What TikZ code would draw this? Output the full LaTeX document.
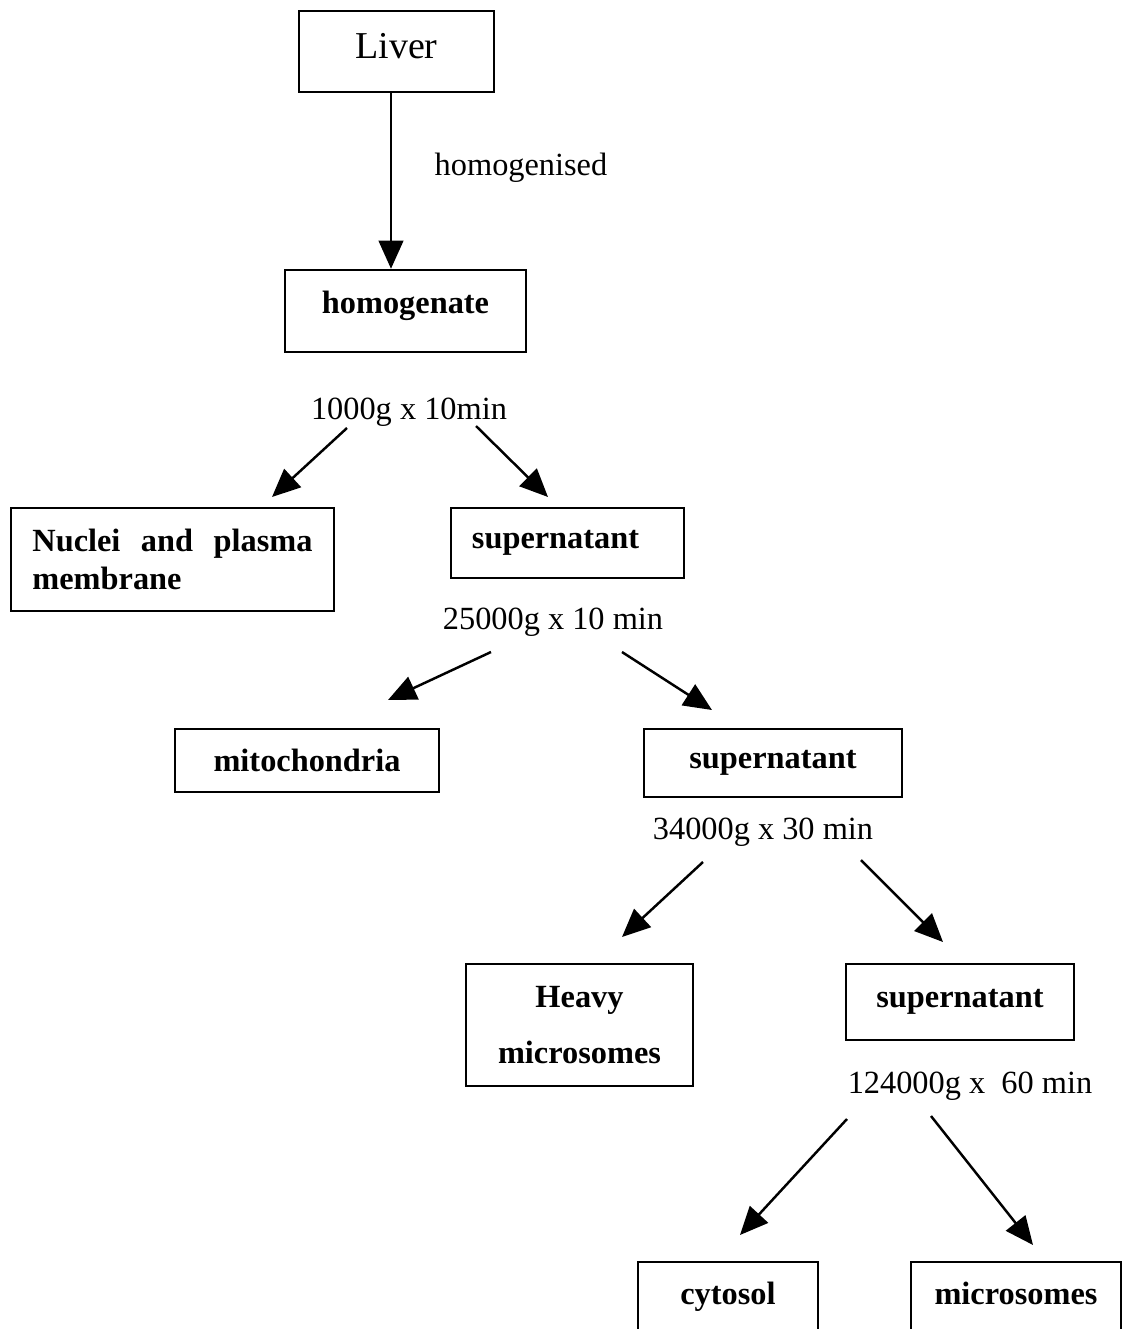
\documentclass[tikz,border=0pt]{standalone}
\usepackage{fontspec}
\setmainfont{Liberation Serif}
\usetikzlibrary{arrows.meta}
\begin{document}
\begin{tikzpicture}[x=0.01cm, y=-0.01cm]
        \tikzstyle{box}=[draw, line width=0.7pt, inner sep=0pt,
            font=\fontsize{9.2}{11}\selectfont\bfseries, align=center]
        \tikzstyle{spin}=[inner sep=0pt, font=\fontsize{9.2}{11}\selectfont]
        \tikzstyle{arr}=[line width=0.7pt, -{Triangle[length=8pt, width=7pt]}]

        \clip (0, 0) rectangle (1122, 1329);

        \node[box, minimum width=19.5mm, minimum height=8.1mm, text depth=3pt,
            font=\fontsize{10.8}{13}\selectfont] (liver) at (396.5, 51.5) {Liver};
        \node[box, minimum width=24.1mm, minimum height=8.2mm, text depth=5pt] (homogenate) at (405.5, 311) {homogenate};
        \node[spin] (hom) at (521, 168) {homogenised};

        \node[spin] (spin1) at (409, 412) {1000g x 10min};
        \node[box, minimum width=32.3mm, minimum height=10.3mm, text width=28mm,
            align=left] (nuclei) at (172.5, 559.5)
            {Nuclei\hfill and\hfill plasma\\membrane};
        \node[box, minimum width=23.3mm, minimum height=7mm, text width=19.1mm,
            align=left] (sup1) at (567.5, 543) {supernatant};

        \node[spin] (spin2) at (553, 622) {25000g x 10 min};
        \node[box, minimum width=26.4mm, minimum height=6.3mm] (mito) at (307, 760.5) {mitochondria};
        \node[box, minimum width=25.8mm, minimum height=6.8mm] (sup2) at (773, 763) {supernatant};

        \node[spin] (spin3) at (763, 832) {34000g x 30 min};
        \node[box, minimum width=22.7mm, minimum height=12.2mm,
            font=\fontsize{9.2}{15.9}\selectfont\bfseries] (heavy) at (579.5, 1025) {Heavy\\microsomes};
        \node[box, minimum width=22.8mm, minimum height=7.6mm] (sup3) at (960, 1002) {supernatant};

        \node[spin] (spin4) at (970, 1086) {124000g x\ \ 60 min};
        \node[box, minimum width=18mm, minimum height=7mm] (cytosol) at (728, 1297) {cytosol};
        \node[box, minimum width=21mm, minimum height=7mm, text depth=2pt] (micro) at (1016, 1297) {microsomes};

        \coordinate (a1) at (347, 428);
        \coordinate (b1) at (272, 497);
        \coordinate (a2) at (476, 426);
        \coordinate (b2) at (548, 497);
        \coordinate (a3) at (491, 652);
        \coordinate (b3) at (388, 700);
        \coordinate (a4) at (622, 652);
        \coordinate (b4) at (712, 710);
        \coordinate (a5) at (703, 862);
        \coordinate (b5) at (622, 937);
        \coordinate (a6) at (861, 860);
        \coordinate (b6) at (943, 942);
        \coordinate (a7) at (847, 1119);
        \coordinate (b7) at (740, 1235);
        \coordinate (a8) at (931, 1116);
        \coordinate (b8) at (1033, 1245);

        \draw[arr] ([xshift=-0.55mm]liver.south) -- ([xshift=-0.55mm]liver.south |- homogenate.north);
        \draw[arr] (a1) to (b1);
        \draw[arr] (a2) to (b2);
        \draw[arr] (a3) to (b3);
        \draw[arr] (a4) to (b4);
        \draw[arr] (a5) to (b5);
        \draw[arr] (a6) to (b6);
        \draw[arr] (a7) to (b7);
        \draw[arr] (a8) to (b8);
    \end{tikzpicture}
\end{document}
